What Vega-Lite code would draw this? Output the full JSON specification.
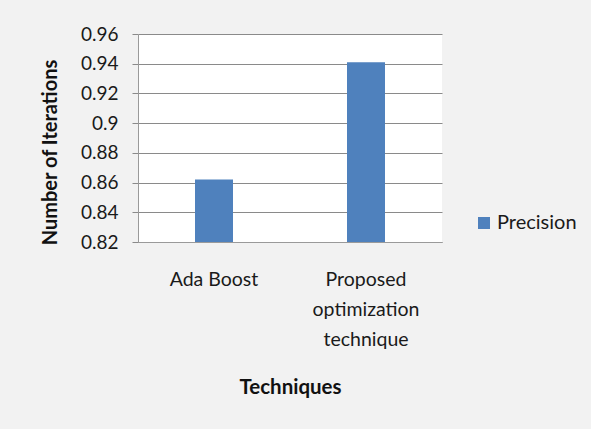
{
  "$schema": "https://vega.github.io/schema/vega-lite/v6.json",
  "width": 304,
  "height": 208,
  "autosize": {"type": "none"},
  "padding": {"left": 138, "top": 34, "right": 149, "bottom": 187},
  "background": "#f2f2f2",
  "config": {
    "font": "Lato",
    "view": {"fill": "white", "stroke": null},
    "axis": {"labelColor": "#1a1a1a", "titleColor": "#111111"}
  },
  "data": {
    "values": [
      {"technique": "Ada Boost", "series": "Precision", "value": 0.862},
      {"technique": "Proposed optimization technique", "series": "Precision", "value": 0.941}
    ]
  },
  "mark": {"type": "bar", "clip": true},
  "encoding": {
    "x": {
      "field": "technique",
      "type": "nominal",
      "sort": null,
      "scale": {"paddingInner": 0.75, "paddingOuter": 0.375},
      "axis": {
        "title": "Techniques",
        "titleFontSize": 20.5,
        "titleFontWeight": "bold",
        "titleY": 135,
        "labelAngle": 0,
        "labelFontSize": 19.5,
        "labelLineHeight": 30,
        "labelPadding": 28,
        "labelBaseline": "top",
        "labelExpr": "datum.label == 'Proposed optimization technique' ? ['Proposed', 'optimization', 'technique'] : datum.label",
        "ticks": false,
        "domainColor": "#9a9a9a",
        "labelLimit": 300
      }
    },
    "y": {
      "field": "value",
      "type": "quantitative",
      "scale": {"domain": [0.82, 0.96], "nice": false, "zero": false},
      "axis": {
        "title": "Number of Iterations",
        "titleFontSize": 20,
        "titleFontWeight": "bold",
        "titleX": -78,
        "titleY": 118,
        "titleBaseline": "bottom",
        "values": [0.82, 0.84, 0.86, 0.88, 0.9, 0.92, 0.94, 0.96],
        "format": ".2~f",
        "labelFontSize": 19,
        "labelPadding": 14,
        "tickSize": 6,
        "tickColor": "#8a8a8a",
        "gridColor": "#8a8a8a",
        "domainColor": "#9a9a9a",
        "grid": true
      }
    },
    "color": {
      "field": "series",
      "type": "nominal",
      "scale": {"range": ["#4f81bd"]},
      "legend": {
        "title": null,
        "orient": "none",
        "legendX": 336,
        "legendY": 179,
        "symbolType": "square",
        "symbolSize": 144,
        "symbolStrokeWidth": 0,
        "labelFontSize": 20,
        "labelColor": "#1a1a1a",
        "labelOffset": 3,
        "padding": 0
      }
    }
  }
}
